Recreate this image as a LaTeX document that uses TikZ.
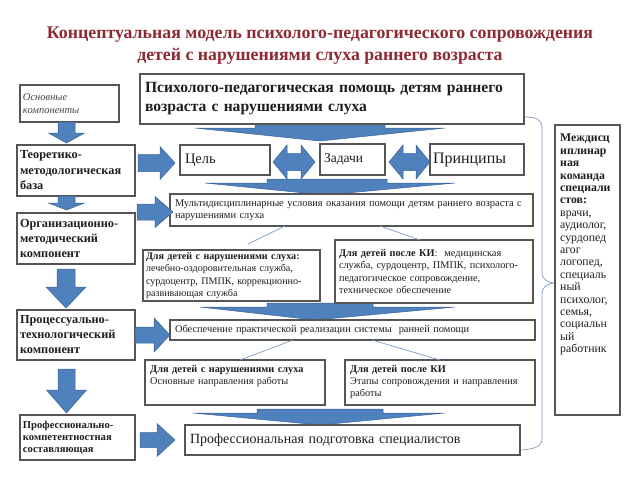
\documentclass[tikz,border=0pt]{standalone}
\usepackage{fontspec}
\setmainfont{Liberation Serif}
\usetikzlibrary{calc}
\definecolor{titlecol}{RGB}{142,42,52}
\definecolor{bfill}{RGB}{79,129,189}
\definecolor{bline}{RGB}{58,98,148}
\definecolor{frame}{RGB}{85,85,85}
\definecolor{conn}{RGB}{125,155,200}
\definecolor{txt}{RGB}{30,30,30}
\definecolor{soft}{RGB}{70,70,70}
% block arrows drawn as shapes
\newcommand\rarr[6]{% x1 x2 yc shafthalf headhalf headlen
  \path[blk] (#1,#3-#4) -- (#2-#6,#3-#4) -- (#2-#6,#3-#5) -- (#2,#3) -- (#2-#6,#3+#5) -- (#2-#6,#3+#4) -- (#1,#3+#4) -- cycle;}
\newcommand\darr[6]{% xc y1 y2 shafthalf headhalf headlen
  \path[blk] (#1-#4,#2) -- (#1+#4,#2) -- (#1+#4,#3-#6) -- (#1+#5,#3-#6) -- (#1,#3) -- (#1-#5,#3-#6) -- (#1-#4,#3-#6) -- cycle;}
\newcommand\dbarr[3]{% x1 x2 yc
  \path[blk] (#1,#3) -- (#1+14,#3-17) -- (#1+14,#3-8.5) -- (#2-14,#3-8.5) -- (#2-14,#3-17) -- (#2,#3) -- (#2-14,#3+17) -- (#2-14,#3+8.5) -- (#1+14,#3+8.5) -- (#1+14,#3+17) -- cycle;}
\newcommand\wdg[8]{% shaftL shaftR ytop wingL wingR ywing tipx tipy
  \path[blk] (#1,#3) -- (#2,#3) -- (#2,#6) -- (#5,#6) -- (#7,#8) -- (#4,#6) -- (#1,#6) -- cycle;}
\begin{document}
\begin{tikzpicture}[x=1pt,y=-1pt,
  box/.style={draw=frame, line width=1.2pt, fill=white, anchor=north west,
    inner xsep=4pt, inner ysep=0pt, outer sep=0pt, align=left, text=txt},
  blk/.style={fill=bfill, draw=bline, line width=0.5pt, line join=miter},
  con/.style={draw=conn, line width=0.7pt}]
\useasboundingbox[fill=white] (0,0) rectangle (640,480);

% title
\node[text=titlecol, font=\bfseries\fontsize{17.8}{22}\selectfont, align=center] (title) at (320,46)
  {Концептуальная модель психолого-педагогического сопровождения\\детей с нарушениями слуха раннего возраста};

% brace
\draw[con] (524,117) .. controls (536,117) and (542,119) .. (542,128) -- (542,272)
  .. controls (542,280) and (548,283) .. (556,283)
  .. controls (548,283) and (542,286) .. (542,294) -- (542,438)
  .. controls (542,446) and (536,449) .. (521,450);

% wedges
\wdg{255}{385}{124}{195}{445}{128}{320}{141}
\wdg{267}{387}{179}{205}{455}{183}{325}{195}
\wdg{267}{373}{303}{200}{455}{307}{315}{320}
\wdg{257}{383}{409}{193}{445}{413}{320}{425}

% left column boxes
\node[box, minimum width=99, minimum height=37, text width=93, inner xsep=3pt, text=soft,
  font=\itshape\fontsize{10.5}{12.5}\selectfont] (osn) at (20,85) {Основные\\компоненты};
\node[box, minimum width=118, minimum height=51, text width=112, inner xsep=3pt,
  font=\bfseries\fontsize{12.3}{15.5}\selectfont] (teo) at (17,145) {Теоретико-\\методологическая\\база};
\node[box, minimum width=118, minimum height=51, text width=112, inner xsep=3pt,
  font=\bfseries\fontsize{12.3}{15}\selectfont] (org) at (17,213) {Организационно-\\методический\\компонент};
\node[box, minimum width=118, minimum height=50, text width=112, inner xsep=3pt,
  font=\bfseries\fontsize{12.3}{15}\selectfont] (proc) at (17,310) {Процессуально-\\технологический\\компонент};
\node[box, minimum width=115, minimum height=45, text width=109,inner xsep=3pt,
  font=\bfseries\fontsize{10.6}{11.8}\selectfont] (prof) at (20,415) {Профессионально-\\компетентностная\\составляющая};

% main boxes
\node[box, minimum width=384, minimum height=50, text width=374, inner xsep=5pt,
  font=\bfseries\fontsize{15.6}{19}\selectfont] (top) at (140,74)
  {Психолого-педагогическая помощь детям раннего\\возраста с нарушениями слуха};
\node[box, minimum width=90, minimum height=30, text width=80, inner xsep=5pt,
  font=\fontsize{14.5}{17}\selectfont] (cel) at (180,145) {Цель};
\node[box, minimum width=65, minimum height=31, text width=57,
  font=\fontsize{13.5}{16}\selectfont] (zad) at (320,144) {Задачи};
\node[box, minimum width=94, minimum height=31, text width=88, inner xsep=3pt,
  font=\fontsize{16}{18}\selectfont] (pri) at (430,144) {Принципы};
\node[box, minimum width=363, minimum height=32, text width=353, inner xsep=5pt,
  font=\fontsize{10.4}{12}\selectfont] (mul) at (170,194)
  {Мультидисциплинарные условия оказания помощи детям раннего возраста с\\нарушениями слуха};
\node[box, minimum width=177, minimum height=51, text width=171, inner xsep=3pt,
  font=\fontsize{10.1}{12.5}\selectfont] (lb1) at (143,250)
  {\textbf{Для детей с нарушениями слуха:}\\лечебно-оздоровительная служба,\\сурдоцентр, ПМПК, коррекционно-\\развивающая служба};
\node[box, minimum width=198, minimum height=63, text width=190, inner xsep=4pt,
  font=\fontsize{10.3}{12.5}\selectfont] (rb1) at (335,240)
  {\textbf{Для детей после КИ}:\ \ медицинская\\служба, сурдоцентр, ПМПК, психолого-\\педагогическое сопровождение,\\техническое обеспечение};
\node[box, minimum width=365, minimum height=20, text width=355, inner xsep=5pt,
  font=\fontsize{10.4}{12}\selectfont] (obe) at (170,320)
  {Обеспечение практической реализации системы \ ранней помощи};
\node[box, minimum width=180, minimum height=45] (lb2) at (145,360) {};
\node[anchor=north west, inner sep=0pt, text width=172, align=left, text=txt,
  font=\fontsize{10.3}{12}\selectfont] (lb2t) at (150,365)
  {\textbf{Для детей с нарушениями слуха}\\Основные направления работы};
\node[box, minimum width=190, minimum height=45] (rb2) at (345,360) {};
\node[anchor=north west, inner sep=0pt, text width=184, align=left, text=txt,
  font=\fontsize{10.3}{12}\selectfont] (rb2t) at (350,365)
  {\textbf{Для детей после КИ}\\Этапы сопровождения и направления\\работы};
\node[box, minimum width=335, minimum height=30, text width=325, inner xsep=5pt,
  font=\fontsize{14}{17}\selectfont] (pps) at (185,425) {Профессиональная подготовка специалистов};

% right team box
\node[box, minimum width=65, minimum height=290] (mdt) at (555,125) {};
\node[anchor=north west, inner sep=0pt, text width=60, align=left, text=txt,
  font=\fontsize{11.8}{12.4}\selectfont] (mdtt) at (560,134)
  {\textbf{Междисц}\\\textbf{иплинар}\\\textbf{ная}\\\textbf{команда}\\\textbf{специали}\\\textbf{стов:}\\врачи,\\аудиолог,\\сурдопед\\агог\\логопед,\\специаль\\ный\\психолог,\\семья,\\социальн\\ый\\работник};

% block arrows
\darr{66.5}{122}{143}{8.5}{18}{10}
\darr{66.5}{196}{210}{8.5}{18}{7}
\darr{66}{269}{308}{9}{20}{21}
\darr{66.5}{369}{413}{8.5}{20}{23}
\rarr{138}{175}{163}{8.5}{16.5}{15}
\rarr{137}{173}{212}{8}{15.5}{18}
\rarr{135}{170}{335}{8}{17}{16}
\rarr{140}{175}{440}{7.5}{16.5}{18}
\dbarr{273}{315}{162}
\dbarr{389}{430}{162}

% thin connectors
\draw[con] ($(mul.south west)+(115,0)$) -- ($(lb1.north west)+(105,-6)$);
\draw[con] ($(mul.south west)+(210,0)$) -- ($(rb1.north west)+(85,0)$);
\draw[con] ($(obe.south west)+(123,0)$) -- ($(lb2.north west)+(95,0)$);
\draw[con] ($(obe.south west)+(202,0)$) -- ($(rb2.north west)+(95,0)$);
\end{tikzpicture}
\end{document}
